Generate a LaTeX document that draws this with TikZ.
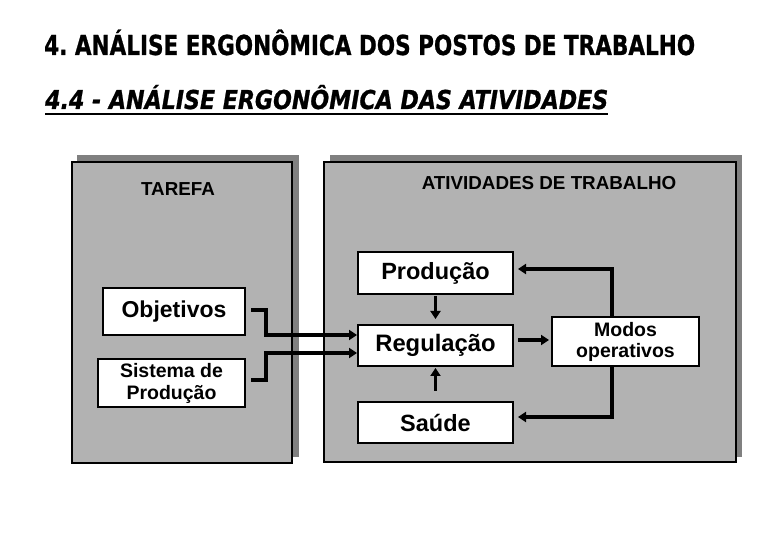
\documentclass[tikz,border=0pt]{standalone}
\usepackage{fontspec}
\usepackage{graphicx}
\setmainfont{Liberation Sans}
\newfontfamily\titlefont{DejaVu Sans}[BoldFeatures={FakeBold=1.0},BoldItalicFeatures={FakeBold=1.0}]
\usetikzlibrary{arrows.meta}
\definecolor{panelgray}{RGB}{178,178,178}
\definecolor{shadowgray}{RGB}{128,128,128}
\frenchspacing
\begin{document}
\begin{tikzpicture}[x=1pt,y=-1pt,
  panel/.style={draw=black, line width=2pt, fill=panelgray, inner sep=0pt},
  panelshadow/.style={fill=shadowgray, draw=none, inner sep=0pt},
  box/.style={draw=black, line width=2pt, fill=white, align=center, inner sep=0pt, font=\bfseries},
  conn/.style={line width=3.5pt, -{Triangle[length=8pt,width=10pt]}},
  paneltitle/.style={anchor=base, inner sep=0pt, font=\bfseries\fontsize{18.8}{20}\selectfont}
]
\fill[white] (0,0) rectangle (780,540);
\useasboundingbox (0,0) rectangle (780,540);

% titles
\node[anchor=base west, inner sep=0pt] (t1) at (44,55)
  {\resizebox{651pt}{\height}{\titlefont\bfseries\fontsize{27.5}{30}\selectfont 4. ANÁLISE ERGONÔMICA DOS POSTOS DE TRABALHO}};
\node[anchor=base west, inner sep=0pt] (t2) at (45,109)
  {\resizebox{563pt}{\height}{\titlefont\bfseries\itshape\fontsize{26}{28}\selectfont 4.4 - ANÁLISE ERGONÔMICA DAS ATIVIDADES}};
\coordinate (ul1) at (45,114);
\coordinate (ul2) at (608,114);
\draw[line width=2pt] (ul1) -- (ul2);

% panels
\node[panelshadow, minimum width=222pt, minimum height=302pt] (tarefash) at (188,306) {};
\node[panel, minimum width=220pt, minimum height=301pt] (tarefa) at (182,312.5) {};
\node[panelshadow, minimum width=412pt, minimum height=302pt] (ativsh) at (536,306) {};
\node[panel, minimum width=412pt, minimum height=300pt] (ativ) at (530,312) {};

\node[paneltitle] (tarefalbl) at (178,196) {TAREFA};
\node[paneltitle] (ativlbl) at (549,190) {ATIVIDADES DE TRABALHO};

% boxes
\node[box, minimum width=142pt, minimum height=47pt, font=\bfseries\fontsize{23}{24}\selectfont] (obj) at (174,311.5) {Objetivos};
\node[box, minimum width=147pt, minimum height=48pt, font=\bfseries\fontsize{19.5}{22}\selectfont] (sis) at (171.5,383) {Sistema de\\Produção};
\node[box, minimum width=155pt, minimum height=42pt, font=\bfseries\fontsize{23.5}{24}\selectfont] (prod) at (435.5,273) {Produção};
\node[box, minimum width=155pt, minimum height=41pt, font=\bfseries\fontsize{23.8}{24}\selectfont] (reg) at (435.5,345.5) {Regulação};
\node[box, minimum width=155pt, minimum height=41pt, font=\bfseries\fontsize{23.5}{24}\selectfont] (sau) at (435.5,422.5) {Saúde};
\node[box, minimum width=147pt, minimum height=49pt, font=\bfseries\fontsize{19.5}{21}\selectfont] (modos) at (625.5,341.5) {Modos\\operativos};

% connectors
\draw[conn] ([xshift=5pt,yshift=1.5pt]obj.east) -- ++(15,0) |- ([yshift=10.5pt]reg.west);
\draw[conn] ([xshift=5pt,yshift=3pt]sis.east) -- ++(15,0) |- ([yshift=-7.5pt]reg.west);
\draw[conn] ([yshift=-1pt]prod.south) -- ([yshift=5pt]reg.north);
\draw[conn] ([yshift=10pt]sau.north) -- ([yshift=-1pt]reg.south);
\draw[conn] ([xshift=4pt,yshift=5.5pt]reg.east) -- ([xshift=-2pt,yshift=5.5pt]reg.east -| modos.west);
\draw[conn] ([xshift=-13.5pt]modos.north) |- ([xshift=4pt,yshift=4pt]prod.east);
\draw[conn] ([xshift=-13.5pt]modos.south) |- ([xshift=4pt,yshift=5.5pt]sau.east);
\end{tikzpicture}
\end{document}
